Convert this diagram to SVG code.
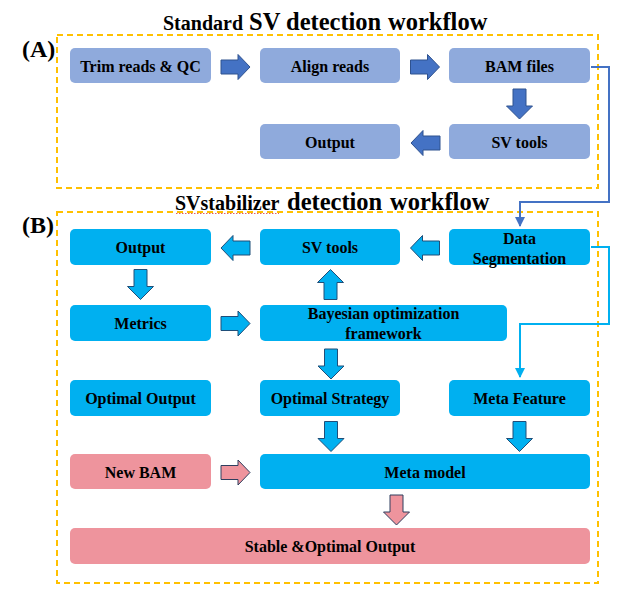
<svg xmlns="http://www.w3.org/2000/svg" width="640" height="599" viewBox="0 0 640 599">
<style>
text{font-family:"Liberation Serif","Times New Roman",serif;font-weight:bold;fill:#000}
.lbl{font-size:16px;text-anchor:middle;dominant-baseline:central}
.a{fill:#8FAADC}
.b{fill:#00B0F0}
.p{fill:#EE949D}
.frame{fill:none;stroke:#FFC000;stroke-width:2;stroke-dasharray:6 4}
.arA{fill:#4472C4;stroke:#2F528F;stroke-width:1}
.arB{fill:#00B0F0;stroke:#1F4E79;stroke-width:1}
.arP{fill:#EE949D;stroke:#2F3F5F;stroke-width:1}
.t1{font-size:20px}
.t2{font-size:24.5px}
</style>
<defs>
<path id="rArrow" d="M-14.5,-7 H2.5 V-12.5 L14.5,0 L2.5,12.5 V7 H-14.5 Z"/>
<path id="dArrow" d="M-6.5,-15 H6.5 V2 H13 L0,15 L-13,2 H-6.5 Z"/>
<marker id="mA" viewBox="0 0 10 10" refX="9" refY="5" markerWidth="5" markerHeight="5" orient="auto"><path d="M0,0 L10,5 L0,10 Z" fill="#4472C4"/></marker>
<marker id="mB" viewBox="0 0 10 10" refX="9" refY="5" markerWidth="5" markerHeight="5" orient="auto"><path d="M0,0 L10,5 L0,10 Z" fill="#00B0F0"/></marker>
</defs>

<!-- Titles and frames -->
<text class="t1" x="163" y="30">Standard</text>
<text class="t2" x="249" y="30">SV detection</text>
<text class="t2" x="388" y="30">workflow</text>
<text x="22" y="57" style="font-size:24px">(A)</text>
<rect class="frame" x="57" y="35" width="541" height="153"/>

<text class="t1" x="175" y="210">SVstabilizer</text>
<path d="M176,213.5 H279" stroke="#E06060" stroke-width="1" stroke-dasharray="1.5 1.5" fill="none"/>
<text class="t2" x="287" y="210">detection</text>
<text class="t2" x="390" y="210">workflow</text>
<text x="22" y="233" style="font-size:24px">(B)</text>
<rect class="frame" x="57" y="212" width="541" height="371"/>

<!-- Nodes A -->
<g id="trim"><rect class="a" x="70" y="48" width="141" height="35" rx="5"/><text class="lbl" x="140.5" y="66">Trim reads &amp; QC</text></g>
<g id="align"><rect class="a" x="260" y="48" width="140" height="35" rx="5"/><text class="lbl" x="330" y="66">Align reads</text></g>
<g id="bam"><rect class="a" x="449" y="48" width="141" height="35" rx="5"/><text class="lbl" x="519.5" y="66">BAM files</text></g>
<g id="outputA"><rect class="a" x="260" y="124" width="140" height="35" rx="5"/><text class="lbl" x="330" y="142">Output</text></g>
<g id="svtoolsA"><rect class="a" x="449" y="124" width="141" height="35" rx="5"/><text class="lbl" x="519.5" y="142">SV tools</text></g>

<!-- Nodes B -->
<g id="outputB"><rect class="b" x="70" y="229" width="141" height="36" rx="5"/><text class="lbl" x="140.5" y="247">Output</text></g>
<g id="svtoolsB"><rect class="b" x="260" y="229" width="140" height="36" rx="5"/><text class="lbl" x="330" y="247">SV tools</text></g>
<g id="dataseg"><rect class="b" x="449" y="229" width="141" height="36" rx="5"/><text class="lbl" x="519.5" y="238">Data</text><text class="lbl" x="519.5" y="258">Segmentation</text></g>
<g id="metrics"><rect class="b" x="70" y="305" width="141" height="36" rx="5"/><text class="lbl" x="140.5" y="323">Metrics</text></g>
<g id="bayes"><rect class="b" x="260" y="305" width="247" height="36" rx="5"/><text class="lbl" x="383.5" y="313">Bayesian optimization</text><text class="lbl" x="383.5" y="333">framework</text></g>
<g id="optout"><rect class="b" x="70" y="380" width="141" height="36" rx="5"/><text class="lbl" x="140.5" y="398">Optimal Output</text></g>
<g id="optstrat"><rect class="b" x="260" y="380" width="140" height="36" rx="5"/><text class="lbl" x="330" y="398">Optimal Strategy</text></g>
<g id="metafeat"><rect class="b" x="449" y="380" width="141" height="36" rx="5"/><text class="lbl" x="519.5" y="398">Meta Feature</text></g>
<g id="newbam"><rect class="p" x="70" y="454" width="141" height="35" rx="5"/><text class="lbl" x="140.5" y="472">New BAM</text></g>
<g id="metamodel"><rect class="b" x="260" y="454" width="330" height="35" rx="5"/><text class="lbl" x="425" y="472">Meta model</text></g>
<g id="stable"><rect class="p" x="70" y="528" width="520" height="36" rx="5"/><text class="lbl" x="330" y="546">Stable &amp;Optimal Output</text></g>

<!-- Connectors -->
<g id="connectors">
<use href="#rArrow" class="arA" transform="translate(235.5,67)"/>
<use href="#rArrow" class="arA" transform="translate(425,67)"/>
<use href="#dArrow" class="arA" transform="translate(519.5,104)"/>
<use href="#rArrow" class="arA" transform="translate(425.5,143) rotate(180)"/>
<path d="M591,67 H609 V202 H520 V226" fill="none" stroke="#4472C4" stroke-width="2" marker-end="url(#mA)"/>

<use href="#rArrow" class="arB" transform="translate(235.5,248) rotate(180)"/>
<use href="#rArrow" class="arB" transform="translate(425,248) rotate(180)"/>
<use href="#dArrow" class="arB" transform="translate(140.5,284.5)"/>
<use href="#dArrow" class="arB" transform="translate(330.5,284.5) rotate(180)"/>
<use href="#rArrow" class="arB" transform="translate(235.5,323.5)"/>
<use href="#dArrow" class="arB" transform="translate(331,364)"/>
<use href="#dArrow" class="arB" transform="translate(331,436.5)"/>
<use href="#dArrow" class="arB" transform="translate(519.5,436.5)"/>
<path d="M591,247 H609 V324 H520 V377" fill="none" stroke="#00B0F0" stroke-width="2" marker-end="url(#mB)"/>

<use href="#rArrow" class="arP" transform="translate(235.5,472.5)"/>
<use href="#dArrow" class="arP" transform="translate(396.5,510)"/>
</g>
</svg>
